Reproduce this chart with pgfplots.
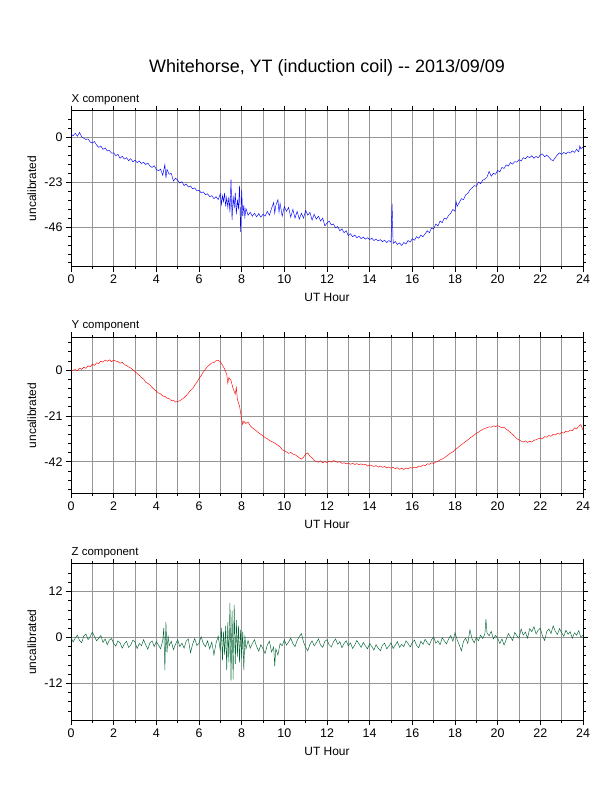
\documentclass[border=0pt]{standalone}
\usepackage{fontspec}
\setmainfont{Liberation Sans}
\usepackage{pgfplots}
\pgfplotsset{compat=1.18}
\definecolor{xcol}{RGB}{0,0,255}
\definecolor{ycol}{RGB}{255,0,0}
\definecolor{zcol}{RGB}{0,100,50}
\definecolor{gridc}{RGB}{150,150,150}
\pgfplotsset{
 gmt/.style={
  scale only axis, width=512bp, height=156bp, anchor=south west,
  xmin=0, xmax=24, xtick={0,2,...,24}, minor xtick={1,3,...,23},
  xmajorgrids, xminorgrids, ymajorgrids,
  grid style={gridc, line width=0.5bp},
  minor grid style={gridc, line width=0.5bp},
  tick align=outside, major tick length=5bp, minor tick length=2.5bp,
  every tick/.style={black, line width=0.6bp},
  axis line style={line width=1bp},
  ticklabel style={font=\fontsize{12.5}{14}\selectfont},
  /pgf/number format/assume math mode=true,
  every axis plot/.append style={line width=0.45bp, mark=none},
 }
}
\begin{document}
\begin{tikzpicture}
\path[use as bounding box] (0,0) rectangle (612bp,792bp);
\node[anchor=base, font=\fontsize{18}{20}\selectfont] at (327bp,719.7bp) {Whitehorse, YT (induction coil) -{}- 2013/09/09};
% ---------------- X component
\node[anchor=base west, inner sep=0pt, font=\fontsize{11.5}{13}\selectfont] at (71.5bp,689.7bp) {X component};
\node[rotate=90, anchor=base, font=\fontsize{12}{14}\selectfont] at (36bp,603.5bp) {uncalibrated};
\node[anchor=base, font=\fontsize{12}{14}\selectfont] at (327bp,490.3bp) {UT Hour};
\begin{axis}[gmt, at={(71bp,525.3bp)}, ymin=-66.4, ymax=13.6, ytick={-46,-23,0}, minor ytick={-64.4,-59.8,...,9.3}]
\addplot[xcol] coordinates {
(0.0,1.5)(0.1,0.8)(0.2,2.0)(0.3,0.5)(0.4,2.5)(0.5,0.2)(0.6,-0.5)(0.7,-1.2)(0.8,-0.8)(0.9,-2.5)
(1.0,-3.0)(1.1,-2.2)(1.2,-4.0)(1.3,-5.2)(1.4,-4.5)(1.5,-6.2)(1.6,-5.5)(1.7,-7.0)(1.8,-6.8)(1.9,-8.2)
(2.0,-8.0)(2.1,-9.5)(2.2,-8.8)(2.3,-10.8)(2.4,-9.8)(2.5,-11.2)(2.6,-10.5)(2.7,-12.0)(2.8,-11.0)(2.9,-12.6)
(3.0,-11.8)(3.1,-13.0)(3.2,-12.2)(3.3,-13.5)(3.4,-12.8)(3.5,-14.0)(3.6,-13.2)(3.7,-14.8)(3.8,-15.5)(3.9,-14.6)
(4.0,-16.5)(4.1,-17.2)(4.2,-16.4)(4.3,-19.5)(4.4,-14.0)(4.45,-21.0)(4.5,-16.5)(4.6,-19.0)(4.7,-18.5)(4.8,-22.5)(4.9,-21.0)
(5.0,-22.0)(5.1,-23.5)(5.2,-22.8)(5.3,-24.8)(5.4,-24.0)(5.5,-25.5)(5.6,-25.0)(5.7,-26.5)(5.8,-26.0)(5.9,-27.5)
(6.0,-27.2)(6.1,-28.5)(6.2,-28.0)(6.3,-29.5)(6.4,-29.0)(6.5,-30.5)(6.6,-30.0)(6.7,-31.5)(6.8,-30.5)(6.9,-32.0)
(7.0,-29.0)(7.05,-34.5)(7.1,-30.0)(7.15,-33.0)(7.2,-28.5)(7.25,-35.5)(7.3,-31.0)(7.35,-36.0)(7.4,-30.5)(7.45,-38.5)
(7.5,-21.5)(7.55,-42.5)(7.6,-30.0)(7.65,-36.5)(7.7,-28.5)(7.75,-39.5)(7.8,-32.0)(7.85,-37.0)(7.9,-25.0)(7.95,-48.5)
(8.0,-27.0)(8.05,-40.5)(8.1,-35.0)(8.15,-41.0)(8.2,-36.5)(8.3,-40.0)(8.4,-38.5)(8.5,-40.5)(8.6,-39.0)(8.7,-40.8)(8.8,-39.2)(8.9,-41.0)
(9.0,-39.5)(9.1,-40.5)(9.2,-38.0)(9.3,-40.0)(9.4,-36.5)(9.5,-33.5)(9.55,-39.0)(9.6,-35.0)(9.7,-32.0)(9.75,-38.5)(9.8,-34.0)(9.9,-40.5)
(10.0,-35.5)(10.1,-38.0)(10.2,-36.0)(10.3,-41.0)(10.4,-37.0)(10.5,-41.5)(10.6,-38.0)(10.7,-42.0)(10.8,-39.0)(10.9,-41.5)
(11.0,-37.5)(11.1,-40.0)(11.2,-38.5)(11.3,-42.5)(11.4,-39.5)(11.5,-42.0)(11.6,-40.5)(11.7,-43.0)(11.8,-41.5)(11.9,-45.5)
(12.0,-44.0)(12.1,-43.0)(12.2,-45.0)(12.3,-44.5)(12.4,-46.5)(12.5,-45.8)(12.6,-48.0)(12.7,-47.0)(12.8,-49.0)(12.9,-48.0)
(13.0,-50.5)(13.1,-49.5)(13.2,-51.0)(13.3,-50.2)(13.4,-51.5)(13.5,-50.8)(13.6,-52.0)(13.7,-51.2)(13.8,-52.3)(13.9,-51.5)
(14.0,-52.5)(14.1,-51.8)(14.2,-53.0)(14.3,-52.2)(14.4,-53.2)(14.5,-52.5)(14.6,-53.6)(14.7,-52.8)(14.8,-54.0)(14.9,-53.0)
(15.0,-53.8)(15.05,-34.0)(15.1,-54.5)(15.2,-53.5)(15.3,-55.0)(15.4,-54.2)(15.5,-55.5)(15.6,-54.0)(15.7,-54.8)(15.8,-53.0)(15.9,-53.8)
(16.0,-52.0)(16.1,-52.8)(16.2,-51.0)(16.3,-51.8)(16.4,-50.2)(16.5,-51.0)(16.6,-49.5)(16.7,-48.0)(16.8,-49.0)(16.9,-46.5)
(17.0,-47.0)(17.1,-44.5)(17.2,-45.5)(17.3,-43.0)(17.4,-43.8)(17.5,-41.5)(17.6,-42.0)(17.7,-40.0)(17.8,-39.0)(17.9,-37.0)
(18.0,-38.0)(18.05,-33.0)(18.1,-35.5)(18.2,-33.5)(18.3,-31.5)(18.4,-32.0)(18.5,-29.5)(18.6,-28.8)(18.7,-27.0)(18.8,-26.0)(18.9,-24.8)
(19.0,-25.2)(19.1,-23.0)(19.2,-23.8)(19.3,-22.0)(19.4,-21.5)(19.5,-20.5)(19.6,-17.5)(19.7,-20.0)(19.8,-18.5)(19.9,-19.0)
(20.0,-17.0)(20.1,-17.8)(20.2,-15.5)(20.3,-16.0)(20.4,-14.2)(20.5,-14.8)(20.6,-13.0)(20.7,-13.8)(20.8,-12.5)(20.9,-12.8)
(21.0,-11.5)(21.1,-12.2)(21.2,-10.5)(21.3,-11.0)(21.4,-9.8)(21.5,-10.5)(21.6,-9.5)(21.7,-10.8)(21.8,-9.8)(21.9,-10.6)
(22.0,-9.0)(22.1,-8.6)(22.2,-10.0)(22.3,-9.2)(22.4,-10.2)(22.5,-11.5)(22.6,-12.0)(22.7,-10.5)(22.8,-9.0)(22.9,-8.0)
(23.0,-8.8)(23.1,-7.8)(23.2,-8.5)(23.3,-7.5)(23.4,-8.2)(23.5,-7.0)(23.6,-7.8)(23.7,-6.2)(23.8,-7.5)(23.85,-4.5)(23.9,-6.0)(24.0,-5.0)
};
\end{axis}
% ---------------- Y component
\node[anchor=base west, inner sep=0pt, font=\fontsize{11.5}{13}\selectfont] at (71.5bp,463bp) {Y component};
\node[rotate=90, anchor=base, font=\fontsize{12}{14}\selectfont] at (36bp,376.5bp) {uncalibrated};
\node[anchor=base, font=\fontsize{12}{14}\selectfont] at (327bp,263.7bp) {UT Hour};
\begin{axis}[gmt, at={(71bp,298.7bp)}, ymin=-56.5, ymax=15, ytick={-42,-21,0}, minor ytick={-54.6,-50.4,...,12.7}]
\addplot[ycol] coordinates {
(0.0,-0.5)(0.1,-0.1)(0.2,0.2)(0.3,-0.4)(0.4,0.9)(0.5,0.3)(0.6,1.3)(0.7,0.8)(0.8,1.9)(0.9,1.4)
(1.0,2.7)(1.1,2.1)(1.2,3.3)(1.3,2.9)(1.4,4.1)(1.5,3.6)(1.6,4.6)(1.7,4.0)(1.8,4.7)(1.9,3.8)
(2.0,4.6)(2.1,4.1)(2.2,3.9)(2.3,3.1)(2.4,3.6)(2.5,2.4)(2.6,2.1)(2.7,1.4)(2.8,0.9)(2.9,0.1)
(3.0,-0.7)(3.1,-1.6)(3.2,-2.4)(3.3,-3.5)(3.4,-4.1)(3.5,-5.6)(3.6,-6.1)(3.7,-6.9)(3.8,-7.9)(3.9,-8.9)
(4.0,-9.7)(4.1,-10.5)(4.2,-10.9)(4.3,-11.9)(4.4,-12.1)(4.5,-12.9)(4.6,-13.1)(4.7,-14.0)(4.8,-13.9)(4.9,-14.7)
(5.0,-14.4)(5.1,-14.1)(5.2,-13.4)(5.3,-12.7)(5.4,-11.7)(5.5,-10.6)(5.6,-9.3)(5.7,-8.6)(5.8,-6.9)(5.9,-5.6)
(6.0,-3.9)(6.1,-2.6)(6.2,-0.9)(6.3,0.4)(6.4,1.6)(6.5,2.4)(6.6,3.3)(6.7,3.4)(6.8,4.3)(6.9,4.4)
(7.0,3.8)(7.1,2.2)(7.2,0.5)(7.3,-2.0)(7.35,-6.0)(7.4,-3.5)(7.5,-4.8)(7.6,-8.5)(7.7,-11.0)(7.75,-8.0)(7.8,-13.5)(7.9,-16.5)
(8.0,-22.5)(8.05,-25.0)(8.1,-23.5)(8.2,-24.5)(8.3,-23.8)(8.4,-25.5)(8.5,-26.5)(8.6,-27.2)(8.7,-28.0)(8.8,-28.8)(8.9,-29.5)
(9.0,-30.2)(9.1,-31.0)(9.2,-31.5)(9.3,-32.2)(9.4,-32.8)(9.5,-33.2)(9.6,-33.8)(9.7,-34.5)(9.8,-35.2)(9.9,-36.5)
(10.0,-37.0)(10.1,-37.5)(10.2,-38.2)(10.3,-37.8)(10.4,-38.5)(10.5,-38.8)(10.6,-39.5)(10.7,-40.2)(10.8,-40.8)(10.9,-40.0)
(11.0,-38.5)(11.1,-38.0)(11.2,-39.5)(11.3,-40.2)(11.4,-41.5)(11.5,-41.8)(11.6,-42.2)(11.7,-41.6)(11.8,-42.5)(11.9,-42.0)
(12.0,-42.4)(12.1,-41.8)(12.2,-42.2)(12.3,-41.5)(12.4,-41.9)(12.5,-42.3)(12.6,-42.0)(12.7,-42.8)(12.8,-42.5)(12.9,-43.0)
(13.0,-42.6)(13.1,-43.2)(13.2,-42.8)(13.3,-43.3)(13.4,-42.9)(13.5,-43.4)(13.6,-43.0)(13.7,-43.5)(13.8,-43.2)(13.9,-44.0)
(14.0,-43.5)(14.1,-43.9)(14.2,-44.2)(14.3,-43.8)(14.4,-44.5)(14.5,-44.0)(14.6,-44.6)(14.7,-44.2)(14.8,-44.8)(14.9,-44.4)
(15.0,-45.0)(15.1,-44.6)(15.2,-45.2)(15.3,-44.8)(15.4,-45.5)(15.5,-45.0)(15.6,-45.6)(15.7,-44.9)(15.8,-45.3)(15.9,-44.7)
(16.0,-45.0)(16.1,-44.5)(16.2,-44.8)(16.3,-44.0)(16.4,-44.3)(16.5,-43.5)(16.6,-43.8)(16.7,-43.0)(16.8,-43.2)(16.9,-42.5)
(17.0,-42.8)(17.1,-42.2)(17.2,-41.8)(17.3,-41.2)(17.4,-40.8)(17.5,-40.2)(17.6,-39.5)(17.7,-38.8)(17.8,-38.0)(17.9,-37.5)
(18.0,-36.5)(18.1,-35.8)(18.2,-35.0)(18.3,-34.2)(18.4,-33.5)(18.5,-32.8)(18.6,-32.0)(18.7,-31.2)(18.8,-30.5)(18.9,-29.8)
(19.0,-29.0)(19.1,-28.5)(19.2,-27.8)(19.3,-27.2)(19.4,-26.8)(19.5,-26.4)(19.6,-26.0)(19.7,-26.2)(19.8,-25.6)(19.9,-25.9)
(20.0,-25.5)(20.1,-26.0)(20.2,-26.5)(20.3,-26.2)(20.4,-27.2)(20.5,-27.8)(20.6,-28.6)(20.7,-29.5)(20.8,-30.5)(20.9,-31.5)
(21.0,-32.0)(21.1,-32.6)(21.2,-33.0)(21.3,-32.5)(21.4,-33.2)(21.5,-32.6)(21.6,-33.0)(21.7,-32.2)(21.8,-32.0)(21.9,-31.5)
(22.0,-31.2)(22.1,-31.6)(22.2,-30.5)(22.3,-30.8)(22.4,-30.0)(22.5,-30.4)(22.6,-29.5)(22.7,-29.8)(22.8,-29.0)(22.9,-29.4)
(23.0,-28.6)(23.1,-28.9)(23.2,-28.0)(23.3,-28.4)(23.4,-27.5)(23.5,-27.8)(23.6,-26.5)(23.7,-27.0)(23.8,-25.8)(23.9,-25.0)(24.0,-27.5)
};
\end{axis}
% ---------------- Z component
\node[anchor=base west, inner sep=0pt, font=\fontsize{11.5}{13}\selectfont] at (71.5bp,236bp) {Z component};
\node[rotate=90, anchor=base, font=\fontsize{12}{14}\selectfont] at (36bp,149.8bp) {uncalibrated};
\node[anchor=base, font=\fontsize{12}{14}\selectfont] at (327bp,37bp) {UT Hour};
\begin{axis}[gmt, at={(71bp,72bp)}, ymin=-21.6, ymax=19.2, ytick={-12,0,12}, minor ytick={-19.2,-16.8,...,16.9}]
\addplot[zcol] coordinates {
(0.0,0.0)(0.1,-1.2)(0.2,-0.2)(0.3,0.6)(0.4,-0.8)(0.5,-1.4)(0.6,0.4)(0.7,0.9)(0.8,-0.6)(0.9,0.2)
(1.0,1.4)(1.1,0.3)(1.2,-0.9)(1.3,-0.2)(1.4,0.5)(1.5,-1.3)(1.6,-0.4)(1.7,-1.9)(1.8,-0.7)(1.9,-0.3)
(2.0,-1.6)(2.1,-2.3)(2.2,-0.9)(2.3,-1.4)(2.4,-2.8)(2.5,-1.7)(2.6,-1.0)(2.7,-2.6)(2.8,-2.0)(2.9,-0.7)
(3.0,-1.2)(3.1,-2.9)(3.2,-1.6)(3.3,-2.2)(3.4,-0.6)(3.5,-1.9)(3.6,-3.1)(3.7,-1.4)(3.8,-0.9)(3.9,-2.4)
(4.0,-1.1)(4.1,-2.0)(4.2,-3.0)(4.3,-0.8)(4.35,2.5)(4.4,-8.5)(4.45,4.0)(4.5,-4.0)(4.55,0.5)(4.6,-2.2)(4.7,-1.0)(4.8,-3.2)(4.9,-1.8)
(5.0,-0.6)(5.1,-2.4)(5.2,-1.5)(5.3,-2.8)(5.4,-1.0)(5.5,-0.4)(5.6,-4.0)(5.7,-1.8)(5.8,-0.3)(5.9,-2.1)
(6.0,-1.5)(6.1,0.2)(6.2,-1.6)(6.3,-2.4)(6.4,-0.9)(6.5,-3.0)(6.6,-1.2)(6.7,-4.6)(6.8,-1.5)(6.9,0.3)
(7.0,-3.5)(7.05,2.5)(7.1,-6.0)(7.15,1.5)(7.2,-4.5)(7.25,3.0)(7.3,-8.5)(7.35,4.0)(7.4,-6.5)(7.45,9.0)
(7.5,-11.5)(7.55,7.0)(7.6,-11.0)(7.65,8.5)(7.7,-7.0)(7.75,4.5)(7.8,-5.0)(7.85,3.0)(7.9,-6.5)(7.95,2.0)
(8.0,-5.5)(8.05,1.5)(8.1,-8.5)(8.15,0.5)(8.2,-3.0)(8.3,-0.8)(8.4,-2.8)(8.5,-1.6)(8.6,-0.6)(8.7,-2.4)(8.8,-3.6)(8.9,-1.9)
(9.0,-3.0)(9.1,-4.2)(9.2,-2.0)(9.3,-1.0)(9.4,-3.8)(9.5,-2.5)(9.55,-7.5)(9.6,-3.0)(9.7,-4.6)(9.8,-1.6)(9.9,-2.2)
(10.0,-0.6)(10.1,-2.0)(10.2,-1.2)(10.3,-0.2)(10.4,-1.6)(10.5,-2.4)(10.6,-0.8)(10.7,0.2)(10.8,1.0)(10.9,-1.2)
(11.0,-2.6)(11.1,-3.5)(11.2,-1.8)(11.3,-0.9)(11.4,-2.2)(11.5,-1.4)(11.6,-0.4)(11.7,-2.0)(11.8,-2.6)(11.9,-1.0)
(12.0,-0.6)(12.1,-1.9)(12.2,-2.5)(12.3,-1.2)(12.4,-0.4)(12.5,-1.8)(12.6,-1.1)(12.7,-2.7)(12.8,-1.6)(12.9,-0.9)
(13.0,-2.2)(13.1,-1.4)(13.2,-2.9)(13.3,-2.0)(13.4,-0.8)(13.5,-1.7)(13.6,-2.6)(13.7,-1.3)(13.8,-2.2)(13.9,-3.0)
(14.0,-1.6)(14.1,-2.4)(14.2,-3.3)(14.3,-1.9)(14.4,-2.8)(14.5,-3.5)(14.6,-2.0)(14.7,-1.5)(14.8,-3.0)(14.9,-2.3)
(15.0,-1.4)(15.1,-2.9)(15.2,-2.0)(15.3,-1.1)(15.4,-2.6)(15.5,-1.8)(15.6,-2.4)(15.7,-0.9)(15.8,-1.6)(15.9,-2.5)
(16.0,-1.3)(16.1,-0.7)(16.2,-2.1)(16.3,-2.7)(16.4,-1.0)(16.5,-1.8)(16.6,-0.5)(16.7,-1.4)(16.8,-2.0)(16.9,-0.6)
(17.0,0.1)(17.1,-1.5)(17.2,-0.9)(17.3,-1.9)(17.4,-0.1)(17.5,-0.9)(17.6,-1.7)(17.7,-0.4)(17.8,0.5)(17.9,-1.0)
(18.0,1.2)(18.1,-0.6)(18.2,-2.0)(18.3,-3.5)(18.4,-1.0)(18.5,-0.2)(18.6,-1.6)(18.7,2.0)(18.8,-0.4)(18.9,-1.4)
(19.0,0.0)(19.1,-0.9)(19.2,0.6)(19.3,-0.3)(19.4,0.9)(19.45,4.8)(19.5,1.2)(19.6,0.4)(19.7,1.6)(19.8,-0.4)(19.9,0.5)
(20.0,-0.2)(20.1,-1.6)(20.2,-0.4)(20.3,-2.0)(20.4,-0.6)(20.5,1.0)(20.6,0.1)(20.7,-0.8)(20.8,1.3)(20.9,0.4)
(21.0,-0.2)(21.1,2.2)(21.2,0.6)(21.3,1.4)(21.4,-0.2)(21.5,2.3)(21.6,1.5)(21.7,2.8)(21.8,0.9)(21.9,1.9)
(22.0,2.4)(22.1,0.4)(22.2,-0.8)(22.3,1.5)(22.4,2.2)(22.5,1.0)(22.6,3.0)(22.7,1.6)(22.8,0.8)(22.9,2.3)
(23.0,1.2)(23.1,0.3)(23.2,1.9)(23.3,0.8)(23.4,1.5)(23.5,-0.2)(23.6,1.2)(23.7,0.6)(23.8,1.8)(23.9,0.0)(24.0,0.6)
};
\end{axis}
\end{tikzpicture}
\end{document}
